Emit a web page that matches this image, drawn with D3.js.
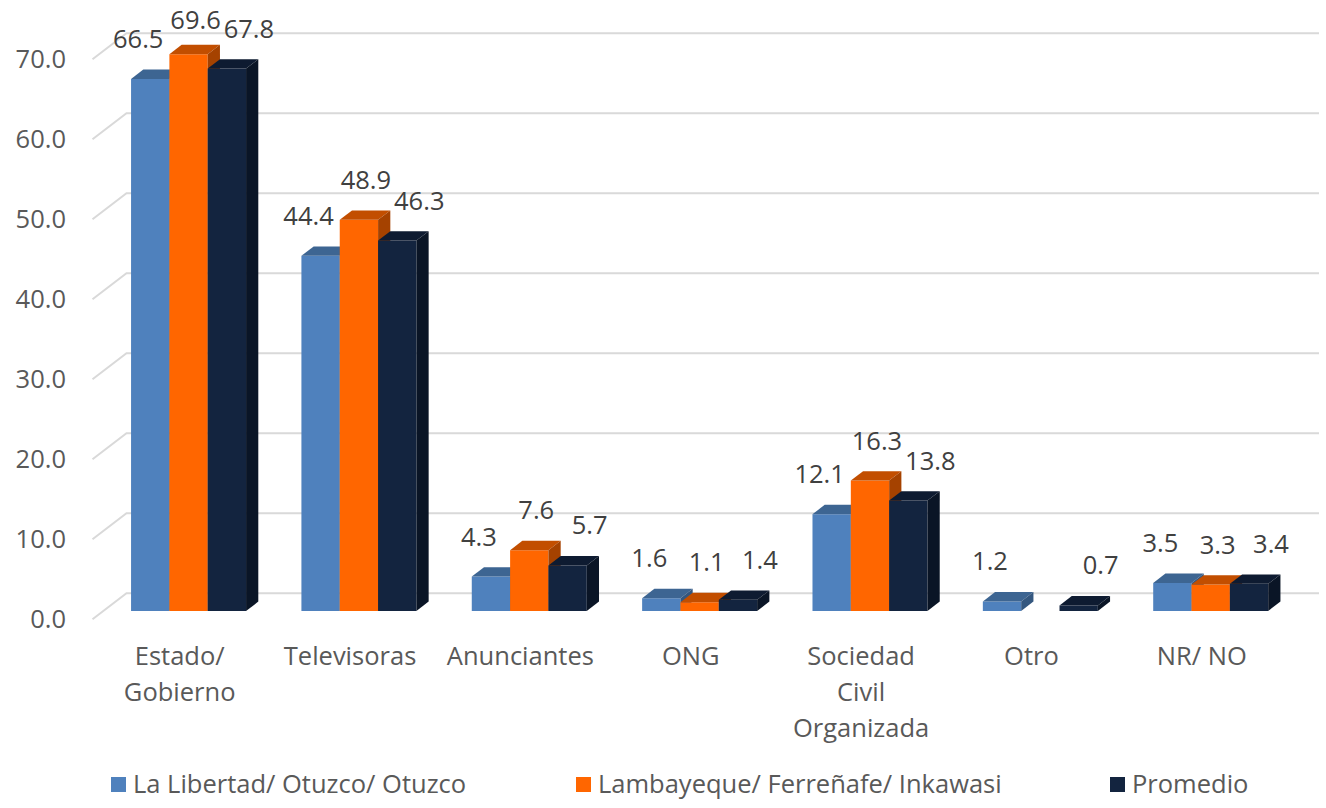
<!DOCTYPE html>
<html>
<head>
<meta charset="utf-8">
<script src="https://cdn.jsdelivr.net/npm/d3@7"></script>
<style>
  html, body { margin: 0; padding: 0; background: #ffffff; }
  svg { display: block; }
  text { font-family: "Open Sans", "Noto Sans", sans-serif; }
</style>
</head>
<body>
<svg id="chart" width="1326" height="808"></svg>
<script>
// ---- Data ----
const categories = ["Estado/ Gobierno", "Televisoras", "Anunciantes", "ONG", "Sociedad Civil Organizada", "Otro", "NR/ NO"];
const categoryLines = [["Estado/", "Gobierno"], ["Televisoras"], ["Anunciantes"], ["ONG"], ["Sociedad", "Civil", "Organizada"], ["Otro"], ["NR/ NO"]];
const seriesNames = ["La Libertad/ Otuzco/ Otuzco", "Lambayeque/ Ferreñafe/ Inkawasi", "Promedio"];
const laLibertad = [66.5, 44.4, 4.3, 1.6, 12.1, 1.2, 3.5];
const lambayeque = [69.6, 48.9, 7.6, 1.1, 16.3, null, 3.3];
const promedio = [67.8, 46.3, 5.7, 1.4, 13.8, 0.7, 3.4];
const yTicks = [0, 10, 20, 30, 40, 50, 60, 70];

const seriesValues = [laLibertad, lambayeque, promedio];
const colors = [
  { front: "#4F81BD", top: "#3D6592", side: "#34577F" },
  { front: "#FF6600", top: "#C24E00", side: "#A54200" },
  { front: "#13243F", top: "#0E1B31", side: "#0A1526" }
];

// ---- Layout ----
const svg = d3.select("#chart");
const depthX = 34, depthY = -26;          // full depth of the 3D box
const barZ0 = 0.32, barZ1 = 0.68;          // bars occupy the middle of the depth
const frontLeft = 92.5, frontRight = 1285;
const fontSize = 25.5;

const x = d3.scaleBand().domain(categories).range([frontLeft, frontRight]).paddingInner(0).paddingOuter(0);
const groupW = 115;
const xs = d3.scaleBand().domain(d3.range(3)).range([0, groupW]).padding(0);
const y = d3.scaleLinear().domain([0, 70]).range([619.3, 59.3]);
const fmt = d3.format(".1f");

function proj(px, py, z) { return [px + depthX * z, py + depthY * z]; }

// gridlines
const grid = svg.append("g");
yTicks.forEach(t => {
  const a = proj(frontLeft, y(t), 0);
  const b = proj(frontLeft, y(t), 1);
  const c = proj(frontRight, y(t), 1);
  grid.append("path")
    .attr("d", `M${a[0]},${a[1]}L${b[0]},${b[1]}L${c[0]},${c[1]}`)
    .attr("fill", "none").attr("stroke", "#D9D9D9").attr("stroke-width", 2);
});

// tick labels
svg.append("g").selectAll("text").data(yTicks).join("text")
  .attr("x", 66).attr("y", d => y(d))
  .attr("dy", "0.35em").attr("text-anchor", "end")
  .attr("font-size", fontSize).attr("fill", "#595959")
  .text(d => fmt(d));

// bars
const bars = svg.append("g");
const labelDx = [-12, 7, 22];
const labels = [];
categories.forEach((cat, ci) => {
  const gx = x(cat) + (x.bandwidth() - groupW) / 2;
  seriesValues.forEach((vals, si) => {
    const v = vals[ci];
    if (v == null) return;
    const x0 = gx + xs(si), x1 = x0 + xs.bandwidth();
    const yb = y(0), yt = y(v);
    const col = colors[si];
    const p = (px, py, z) => proj(px, py, z).join(",");
    // front
    bars.append("path")
      .attr("d", `M${p(x0, yt, barZ0)}L${p(x1, yt, barZ0)}L${p(x1, yb, barZ0)}L${p(x0, yb, barZ0)}Z`)
      .attr("fill", col.front);
    // top
    bars.append("path")
      .attr("d", `M${p(x0, yt, barZ0)}L${p(x1, yt, barZ0)}L${p(x1, yt, barZ1)}L${p(x0, yt, barZ1)}Z`)
      .attr("fill", col.top);
    // right side
    bars.append("path")
      .attr("d", `M${p(x1, yt, barZ0)}L${p(x1, yt, barZ1)}L${p(x1, yb, barZ1)}L${p(x1, yb, barZ0)}Z`)
      .attr("fill", col.side);
    const c = proj((x0 + x1) / 2, yt, barZ0);
    labels.push({ x: c[0] + labelDx[si], y: Math.max(c[1] - 40, 20), t: fmt(v) });
  });
});

// value labels
svg.append("g").selectAll("text").data(labels).join("text")
  .attr("x", d => d.x).attr("y", d => d.y)
  .attr("dy", "0.35em").attr("text-anchor", "middle")
  .attr("font-size", fontSize).attr("fill", "#404040")
  .text(d => d.t);

// category labels
const catG = svg.append("g");
categories.forEach((cat, ci) => {
  const cx = x(cat) + x.bandwidth() / 2 + 2;
  const t = catG.append("text").attr("text-anchor", "middle")
    .attr("font-size", fontSize).attr("fill", "#595959");
  categoryLines[ci].forEach((line, li) => {
    t.append("tspan").attr("x", cx).attr("y", 656 + li * 36).attr("dy", "0.35em").text(line);
  });
});

// legend
const legendX = [111, 576, 1110];
const leg = svg.append("g");
seriesNames.forEach((name, i) => {
  leg.append("rect").attr("x", legendX[i]).attr("y", 777).attr("width", 15).attr("height", 15).attr("fill", colors[i].front);
  leg.append("text").attr("x", legendX[i] + 22).attr("y", 784).attr("dy", "0.35em")
    .attr("font-size", fontSize).attr("fill", "#595959").text(name);
});
</script>
</body>
</html>
